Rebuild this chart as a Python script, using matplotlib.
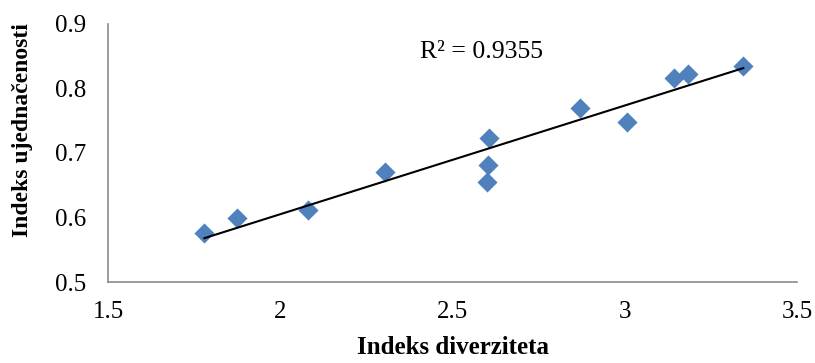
import matplotlib.pyplot as plt
import numpy as np

# diversity index vs. evenness index
diverzitet = [1.780, 1.875, 2.081, 2.304, 2.607, 2.602, 2.599, 2.870, 3.007, 3.143, 3.182, 3.344]
ujednacenost = [0.5755, 0.5988, 0.6116, 0.671, 0.7228, 0.6814, 0.6546, 0.7693, 0.7476, 0.8167, 0.8225, 0.8353]
r2_label = "R² = 0.9355"

plt.rcParams["font.family"] = ["Liberation Serif", "DejaVu Serif"]

x = np.array(diverzitet)
y = np.array(ujednacenost)
slope, intercept = np.polyfit(x, y, 1)
xs = np.array([x.min(), x.max()])

fig = plt.figure(figsize=(8.15, 3.63), dpi=100)
ax = fig.add_axes([0.1325, 0.2231, 0.8455, 0.7109])

ax.scatter(x, y, marker="D", s=105, color="#4F81BD", zorder=3, linewidths=0)
ax.plot(xs, slope * xs + intercept, color="black", lw=1.5, zorder=4)
ax.text(2.406, 0.857, r2_label, fontsize=18.5, ha="left", va="center")

ax.set_xlim(1.5, 3.5)
ax.set_ylim(0.5, 0.9)
ax.set_xticks([1.5, 2, 2.5, 3, 3.5])
ax.set_xticklabels(["1.5", "2", "2.5", "3", "3.5"])
ax.set_yticks([0.5, 0.6, 0.7, 0.8, 0.9])
ax.tick_params(length=0, labelsize=18)
ax.tick_params(axis="x", pad=14)
ax.tick_params(axis="y", pad=16)

for side in ("top", "right"):
    ax.spines[side].set_visible(False)
for side in ("left", "bottom"):
    ax.spines[side].set_color("#8c8c8c")
    ax.spines[side].set_linewidth(1.2)

ax.set_xlabel("Indeks diverziteta", fontsize=18, fontweight="bold", labelpad=9)
ax.set_ylabel("Indeks ujednačenosti", fontsize=17, fontweight="bold")
ax.yaxis.set_label_coords(-0.109, 0.59)

fig.savefig("out.png", dpi=100)
